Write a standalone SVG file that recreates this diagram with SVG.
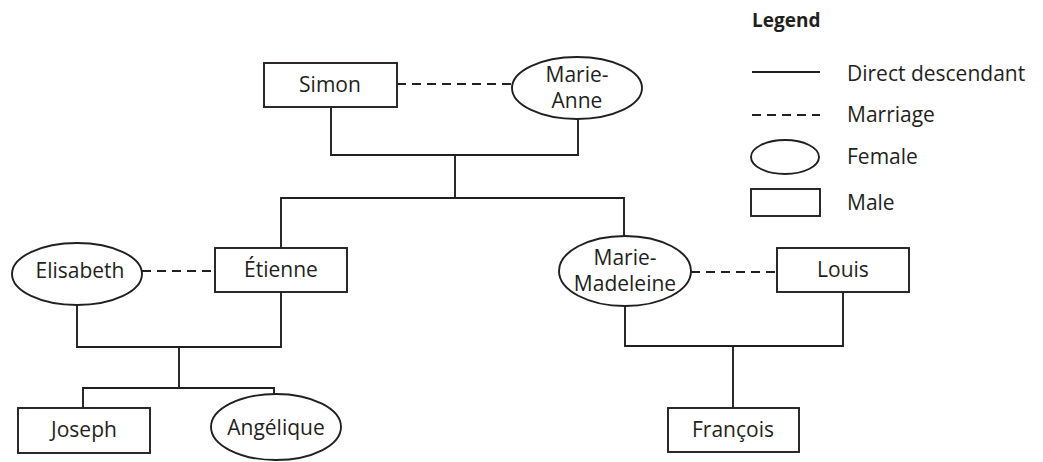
<svg xmlns="http://www.w3.org/2000/svg" width="1043" height="462" viewBox="0 0 1043 462">
<style>
.s{fill:#fff;stroke:#231f20;stroke-width:1.9}
.l{fill:none;stroke:#231f20;stroke-width:1.9}
.d{fill:none;stroke:#231f20;stroke-width:1.9;stroke-dasharray:9 6}
text{font-family:"Open Sans","Noto Sans",sans-serif;font-size:21px;fill:#231f20}
.c{text-anchor:middle}
.b{font-weight:bold;font-size:19px}
</style>
<rect width="1043" height="462" fill="#fff"/>
<g id="connectors">
<path class="d" d="M397 84H512"/>
<path class="l" d="M331 107V155H578V119"/>
<path class="l" d="M455 155V198"/>
<path class="l" d="M281 248V198H624V236"/>
<path class="d" d="M142 271H215"/>
<path class="d" d="M691 272H777"/>
<path class="l" d="M77 305V347H281V292"/>
<path class="l" d="M179 347V388"/>
<path class="l" d="M83 408V388H274V394"/>
<path class="l" d="M625 306V346H843V292"/>
<path class="l" d="M733 346V408"/>
</g>
<g id="simon"><rect class="s" x="264" y="63" width="133" height="44"/><text class="c" x="330" y="92">Simon</text></g>
<g id="marie-anne"><ellipse class="s" cx="577" cy="88" rx="65" ry="31"/><text class="c" x="577" y="82">Marie-</text><text class="c" x="577" y="108">Anne</text></g>
<g id="elisabeth"><ellipse class="s" cx="77" cy="274" rx="65" ry="31"/><text class="c" x="80" y="278">Elisabeth</text></g>
<g id="etienne"><rect class="s" x="215" y="248" width="132" height="44"/><text class="c" x="281" y="277">Étienne</text></g>
<g id="marie-madeleine"><ellipse class="s" cx="625" cy="271" rx="66" ry="35"/><text class="c" x="625" y="265">Marie-</text><text class="c" x="625" y="291">Madeleine</text></g>
<g id="louis"><rect class="s" x="777" y="248" width="132" height="44"/><text class="c" x="843" y="277">Louis</text></g>
<g id="joseph"><rect class="s" x="18" y="408" width="132" height="45"/><text class="c" x="84" y="437">Joseph</text></g>
<g id="angelique"><ellipse class="s" cx="276" cy="427" rx="65" ry="33"/><text class="c" x="276" y="435">Angélique</text></g>
<g id="francois"><rect class="s" x="668" y="408" width="131" height="44"/><text class="c" x="733" y="437">François</text></g>
<g id="legend">
<text class="b" x="752" y="27">Legend</text>
<path class="l" d="M752 72H820"/>
<text x="847" y="81">Direct descendant</text>
<path class="d" d="M752 115H820"/>
<text x="847" y="122">Marriage</text>
<ellipse class="s" cx="785" cy="157" rx="34" ry="17"/>
<text x="847" y="164">Female</text>
<rect class="s" x="751" y="189" width="69" height="27"/>
<text x="847" y="210">Male</text>
</g>
</svg>
